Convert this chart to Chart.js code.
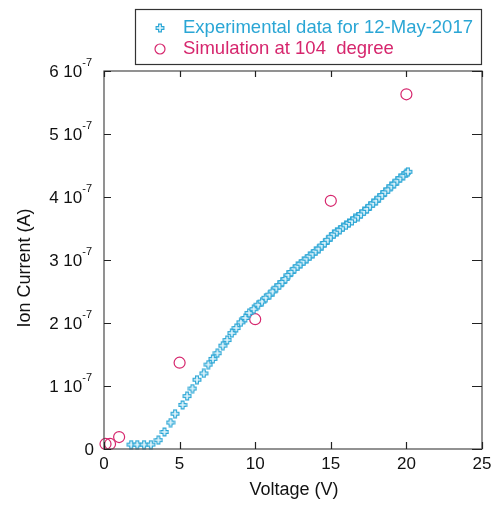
<!DOCTYPE html>
<html>
<head>
<meta charset="utf-8">
<script src="https://cdn.jsdelivr.net/npm/chart.js@4"></script>
<style>
  html, body { margin: 0; padding: 0; background: #fff; }
  #wrap { width: 496px; height: 506px; }
</style>
</head>
<body>
<div id="wrap"><canvas id="ionChart" width="496" height="506"></canvas></div>
<script>
// Experimental data (voltage V, current in units of 1e-7 A)
const expVoltage = [1.8, 2.2, 2.65, 3.1, 3.6, 4.0, 4.4, 4.7, 5.2, 5.5, 5.85, 6.15, 6.6, 6.9, 7.2, 7.5,
  7.85, 8.15, 8.45, 8.75, 9.05, 9.35, 9.6, 9.9, 10.2, 10.45, 10.7, 10.95, 11.15, 11.4, 11.6, 11.8,
  12.0, 12.2, 12.4, 12.6, 12.8, 13.0, 13.2, 13.4, 13.6, 13.8, 14.0, 14.2, 14.4, 14.6, 14.8, 15.0,
  15.2, 15.4, 15.6, 15.8, 16.0, 16.2, 16.4, 16.6, 16.8, 17.0, 17.2, 17.4, 17.6, 17.8, 18.0, 18.2,
  18.4, 18.6, 18.8, 19.0, 19.2, 19.4, 19.6, 19.8, 20.0, 20.1];
const expCurrent = [0.07, 0.07, 0.07, 0.07, 0.14, 0.27, 0.42, 0.56, 0.70, 0.84, 0.96, 1.10, 1.20, 1.34, 1.43, 1.52,
  1.64, 1.73, 1.84, 1.92, 2.01, 2.08, 2.16, 2.22, 2.29, 2.34, 2.40, 2.45, 2.50, 2.56, 2.60, 2.65,
  2.70, 2.76, 2.81, 2.86, 2.90, 2.94, 2.98, 3.02, 3.06, 3.10, 3.14, 3.18, 3.23, 3.27, 3.32, 3.37,
  3.41, 3.45, 3.48, 3.52, 3.55, 3.59, 3.62, 3.66, 3.69, 3.73, 3.77, 3.81, 3.86, 3.90, 3.94, 3.99,
  4.03, 4.08, 4.12, 4.17, 4.21, 4.26, 4.30, 4.34, 4.38, 4.40];

// Simulation at 104 degree
const simVoltage = [0.1, 0.4, 1.0, 5.0, 10.0, 15.0, 20.0];
const simCurrent = [0.08, 0.08, 0.19, 1.37, 2.06, 3.94, 5.63];

const xTicks = [0, 5, 10, 15, 20, 25];
const yTicks = [0, 1, 2, 3, 4, 5, 6];
const yTickMantissa = ['0', '1 10', '2 10', '3 10', '4 10', '5 10', '6 10'];
const yTickExponent = ['', '-7', '-7', '-7', '-7', '-7', '-7'];

const legendLabels = ['Experimental data for 12-May-2017', 'Simulation at 104  degree'];

const cyan = '#2aa6d5';
const magenta = '#d6266d';
const FONT = '"Liberation Sans", Arial, sans-serif';

// small outlined plus marker
function plusMarker() {
  const c = document.createElement('canvas');
  c.width = 10; c.height = 10;
  const g = c.getContext('2d');
  const a = 1.4, b = 3.9, o = 5;
  g.beginPath();
  g.moveTo(o - a, o - b); g.lineTo(o + a, o - b); g.lineTo(o + a, o - a);
  g.lineTo(o + b, o - a); g.lineTo(o + b, o + a); g.lineTo(o + a, o + a);
  g.lineTo(o + a, o + b); g.lineTo(o - a, o + b); g.lineTo(o - a, o + a);
  g.lineTo(o - b, o + a); g.lineTo(o - b, o - a); g.lineTo(o - a, o - a);
  g.closePath();
  g.fillStyle = '#e4f5fb';
  g.fill();
  g.strokeStyle = cyan;
  g.lineWidth = 1.1;
  g.stroke();
  return c;
}
const plusImg = plusMarker();

const framePlugin = {
  id: 'frame',
  afterDraw(chart) {
    const ctx = chart.ctx;
    const area = chart.chartArea;
    const xs = chart.scales.x, ys = chart.scales.y;
    ctx.save();
    ctx.strokeStyle = '#4a4a4a';
    ctx.lineWidth = 1.2;
    ctx.strokeRect(area.left, area.top, area.right - area.left, area.bottom - area.top);
    ctx.strokeStyle = '#222';
    ctx.beginPath();
    xTicks.forEach(v => {
      const px = Math.round(xs.getPixelForValue(v)) + 0.5;
      ctx.moveTo(px, area.bottom); ctx.lineTo(px, area.bottom - 7);
      ctx.moveTo(px, area.top); ctx.lineTo(px, area.top + 6);
    });
    yTicks.forEach(v => {
      const py = Math.round(ys.getPixelForValue(v)) + 0.5;
      ctx.moveTo(area.left, py); ctx.lineTo(area.left + 7, py);
      ctx.moveTo(area.right, py); ctx.lineTo(area.right - 10, py);
    });
    ctx.stroke();

    // tick labels
    ctx.fillStyle = '#111';
    ctx.font = '17px ' + FONT;
    ctx.textAlign = 'center';
    ctx.textBaseline = 'middle';
    xTicks.forEach(v => {
      ctx.fillText(String(v), xs.getPixelForValue(v), area.bottom + 15);
    });
    yTicks.forEach((v, i) => {
      const py = ys.getPixelForValue(v);
      ctx.font = '11px ' + FONT;
      const ew = ctx.measureText(yTickExponent[i]).width;
      const right = area.left - (yTickExponent[i] ? 12 : 10);
      ctx.textAlign = 'left';
      ctx.textBaseline = 'middle';
      ctx.fillText(yTickExponent[i], right - ew, py - 8);
      ctx.font = '17px ' + FONT;
      ctx.textAlign = 'right';
      ctx.fillText(yTickMantissa[i], right - ew, py + 1);
    });

    // axis titles
    ctx.font = '18px ' + FONT;
    ctx.textAlign = 'center';
    ctx.fillText('Voltage (V)', (area.left + area.right) / 2 + 1, 490);
    ctx.save();
    ctx.translate(25, (area.top + area.bottom) / 2 + 8);
    ctx.rotate(-Math.PI / 2);
    ctx.fillText('Ion Current (A)', 0, 0);
    ctx.restore();

    // legend box
    ctx.fillStyle = '#fff';
    ctx.fillRect(135, 9, 347, 56);
    ctx.strokeStyle = '#333';
    ctx.lineWidth = 1.2;
    ctx.strokeRect(135.5, 9.5, 346, 55);
    ctx.drawImage(plusImg, 155, 23);
    ctx.beginPath();
    ctx.arc(160, 49, 5, 0, Math.PI * 2);
    ctx.strokeStyle = magenta;
    ctx.lineWidth = 1.2;
    ctx.stroke();
    ctx.font = '18.5px ' + FONT;
    ctx.textAlign = 'left';
    ctx.fillStyle = cyan;
    ctx.fillText(legendLabels[0], 183, 28);
    ctx.fillStyle = magenta;
    ctx.fillText(legendLabels[1], 183, 49);
    ctx.restore();
  }
};

const ctx = document.getElementById('ionChart').getContext('2d');
new Chart(ctx, {
  type: 'scatter',
  data: {
    datasets: [{
      label: legendLabels[0],
      data: expVoltage.map((v, i) => ({ x: v, y: expCurrent[i] })),
      pointStyle: plusImg,
      clip: false
    }, {
      label: legendLabels[1],
      data: simVoltage.map((v, i) => ({ x: v, y: simCurrent[i] })),
      pointStyle: 'circle',
      pointRadius: 5.5,
      borderColor: magenta,
      backgroundColor: 'rgba(0,0,0,0)',
      borderWidth: 1.2,
      clip: false
    }]
  },
  options: {
    responsive: false,
    animation: false,
    layout: { padding: { top: 71, right: 14, left: 0, bottom: 0 } },
    plugins: {
      legend: { display: false },
      tooltip: { enabled: false }
    },
    scales: {
      x: {
        type: 'linear', min: 0, max: 25,
        grid: { display: false },
        border: { display: false },
        ticks: { display: false },
        afterFit(scale) { scale.height = 57; }
      },
      y: {
        type: 'linear', min: 0, max: 6,
        grid: { display: false },
        border: { display: false },
        ticks: { display: false },
        afterFit(scale) { scale.width = 104; }
      }
    }
  },
  plugins: [framePlugin]
});
</script>
</body>
</html>
